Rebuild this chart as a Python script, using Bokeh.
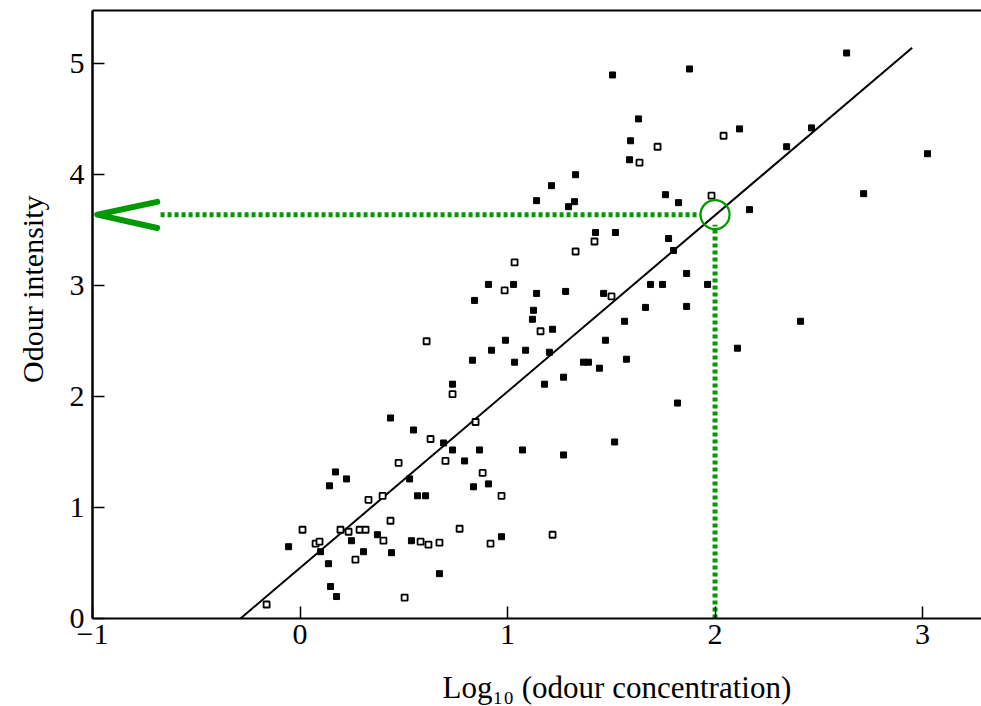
from bokeh.plotting import figure
from bokeh.models import Range1d, LinearAxis, FixedTicker, Title
from bokeh.embed import file_html
from bokeh.resources import INLINE

# ---- data ----
filled_x = [1.877, 2.634, 2.118, 2.345, 2.465, 3.024, 1.761, 1.824, 2.166, 2.716,
            1.776, 1.800, 1.863, 1.689, 1.747, 1.964, 1.863, 2.412, 2.108, 1.506,
            1.631, 1.593, 1.588, 1.424, 1.520, 1.463, 1.665, 1.564, 1.472, 1.573,
            1.443, 1.819, 1.516, 1.328, 1.212, 1.140, 1.323, 1.294, 0.908, 1.029,
            1.140, 1.280, 0.841, 1.125, 1.120, 1.217, 0.990, 0.923, 1.087, 1.202,
            0.831, 1.034, 1.366, 1.390, 0.735, 1.178, 1.270, 0.692, 0.735, 0.865,
            1.072, 1.270, 0.793, 0.836, 0.908, 0.605, 0.537, 0.971, 0.672, 0.436,
            0.547, 0.528, 0.224, 0.171, 0.142, 0.566, 0.373, 0.248, 0.306, 0.441,
            0.147, 0.176, -0.055, 0.099, 0.137]
filled_y = [4.953, 5.097, 4.413, 4.252, 4.422, 4.189, 3.820, 3.748, 3.685, 3.829,
            3.425, 3.317, 3.110, 3.011, 3.011, 3.011, 2.813, 2.679, 2.436, 4.899,
            4.503, 4.306, 4.135, 3.479, 3.479, 2.930, 2.804, 2.679, 2.508, 2.337,
            2.256, 1.942, 1.591, 4.000, 3.901, 3.766, 3.757, 3.712, 3.011, 3.011,
            2.930, 2.948, 2.867, 2.778, 2.697, 2.607, 2.508, 2.418, 2.418, 2.400,
            2.328, 2.310, 2.310, 2.310, 2.112, 2.112, 2.175, 1.582, 1.519, 1.519,
            1.519, 1.474, 1.420, 1.187, 1.213, 1.106, 0.701, 0.737, 0.404, 1.807,
            1.699, 1.258, 1.258, 1.321, 1.196, 1.106, 0.755, 0.701, 0.602, 0.593,
            0.288, 0.198, 0.647, 0.602, 0.494]

hollow_x = [2.041, 1.723, 1.983, 1.636, 1.419, 1.501, 1.328, 1.034, 0.986, 1.159,
            0.610, 0.735, 0.846, 0.629, 0.701, 0.880, 0.971, 0.769, 0.581, 0.619,
            0.672, 0.918, 1.217, 0.475, 0.330, 0.398, 0.436, 0.195, 0.234, 0.287,
            0.316, 0.402, 0.267, 0.504, 0.012, 0.075, 0.094, -0.161]
hollow_y = [4.351, 4.252, 3.811, 4.108, 3.398, 2.903, 3.308, 3.209, 2.957, 2.589,
            2.499, 2.022, 1.771, 1.618, 1.420, 1.312, 1.106, 0.809, 0.692, 0.665,
            0.683, 0.674, 0.755, 1.402, 1.070, 1.106, 0.881, 0.800, 0.782, 0.800,
            0.800, 0.701, 0.530, 0.189, 0.800, 0.674, 0.692, 0.126]

# fitted regression line (end points)
fit_x = [-0.287, 2.950]
fit_y = [0.0, 5.144]

# reading example: log10 concentration 2 -> intensity 3.64
read_x = 2.0
read_y = 3.64

x_ticks = [-1, 0, 1, 2, 3]
y_ticks = [0, 1, 2, 3, 4, 5]
x_tick_labels = {-1: "\u22121", 0: "0", 1: "1", 2: "2", 3: "3"}

x_label = "Log\u2081\u2080 (odour concentration)"
y_label = "Odour intensity"

GREEN = "#009a00"
SERIF = "Liberation Serif"

p = figure(width=981, height=706, output_backend="svg", toolbar_location=None,
           x_range=Range1d(-1, 3.284), y_range=Range1d(0, 5.48),
           min_border_left=92, min_border_right=0, min_border_top=10,
           min_border_bottom=86, background_fill_color="white",
           border_fill_color="white")
p.grid.visible = False
p.outline_line_color = None

for ax in (p.xaxis[0], p.yaxis[0]):
    ax.major_tick_in = 12
    ax.major_tick_out = 0
    ax.minor_tick_in = 0
    ax.minor_tick_out = 0
    ax.axis_line_color = "black"
    ax.major_tick_line_color = "black"
    ax.major_tick_line_width = 1.5
    ax.major_label_text_font = SERIF
    ax.major_label_text_font_size = "30px"
    ax.major_label_text_color = "black"

p.xaxis[0].ticker = FixedTicker(ticks=x_ticks)
p.xaxis[0].major_label_overrides = x_tick_labels
p.xaxis[0].axis_line_width = 2
p.xaxis[0].major_label_standoff = 6
# blank axis label used only as a spacer above the x title
p.xaxis[0].axis_label = " "
p.xaxis[0].axis_label_text_font_size = "10px"
p.xaxis[0].axis_label_standoff = 9
p.yaxis[0].ticker = FixedTicker(ticks=y_ticks)
p.yaxis[0].axis_line_width = 2.5
p.yaxis[0].major_label_standoff = 8

top_axis = LinearAxis(ticker=FixedTicker(ticks=[]), axis_line_width=2,
                      axis_line_color="black", major_tick_out=0, major_tick_in=0,
                      minor_tick_out=0, minor_tick_in=0,
                      major_label_text_font_size="0px")
p.add_layout(top_axis, "above")

# regression line
p.line(fit_x, fit_y, line_color="black", line_width=2)

# data points
p.scatter(filled_x, filled_y, marker="square", size=6, fill_color="black",
          line_color="black", line_width=1)
p.scatter(hollow_x, hollow_y, marker="square", size=6, fill_color="white",
          line_color="black", line_width=1.8)

# green reading guides
p.line([-0.672, read_x - 0.07], [read_y, read_y], line_color=GREEN,
       line_width=5, line_dash="4 3")
p.line([read_x, read_x], [0, read_y - 0.09], line_color=GREEN,
       line_width=5, line_dash="4 3")
p.scatter([read_x], [read_y], marker="circle", size=29, fill_color=None,
          line_color=GREEN, line_width=2.2)
p.line([-0.688, -0.977, -0.688], [read_y + 0.115, read_y, read_y - 0.12],
       line_color=GREEN, line_width=6, line_cap="round", line_join="round")

# axis titles
p.add_layout(Title(text=x_label, text_font=SERIF, text_font_size="31px",
                   text_font_style="normal", text_color="black",
                   align="left", offset=350, vertical_align="top",
                   standoff=0), "below")
p.add_layout(Title(text=y_label, text_font=SERIF, text_font_size="30px",
                   text_font_style="normal", text_color="black",
                   align="right", offset=185, vertical_align="top",
                   standoff=31), "left")

open("out.html", "w").write(file_html(p, INLINE))
